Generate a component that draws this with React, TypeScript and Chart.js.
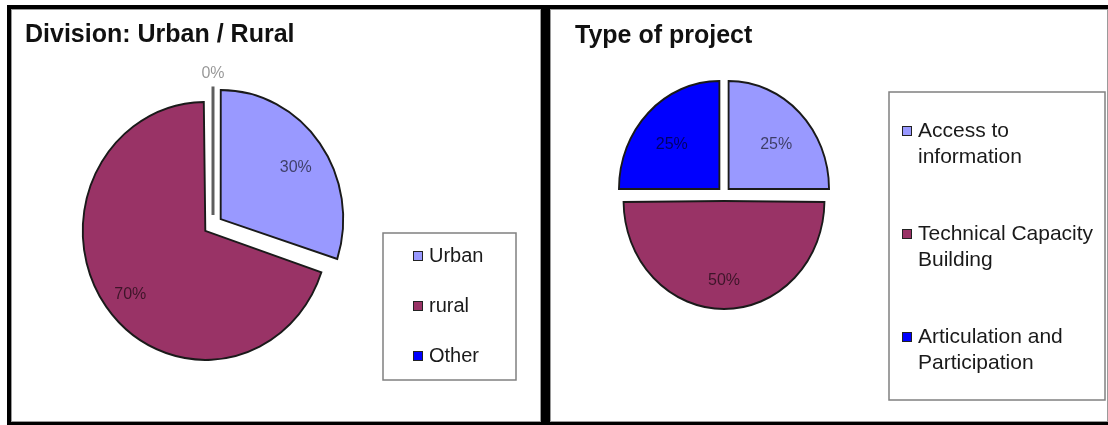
import React, { useEffect, useRef } from 'react';
import { Chart, registerables } from 'chart.js';

Chart.register(...registerables);

const FONT = '"Liberation Sans", Arial, Helvetica, sans-serif';

// ---- data ----
const divisionTitle = 'Division: Urban / Rural';
const divisionLabels = ['Urban', 'rural', 'Other'];
const divisionValues = [30, 70, 0];

const projectTitle = 'Type of project';
const projectLabels = ['Access to information', 'Technical Capacity Building', 'Articulation and Participation'];
const projectValues = [25, 50, 25];

const sliceColors = ['#9999FF', '#993366', '#0000FF'];

function wrapText(ctx: CanvasRenderingContext2D, text: string, maxWidth: number): string[] {
  const words = text.split(' ');
  const lines: string[] = [];
  let cur = '';
  for (const w of words) {
    const test = cur ? cur + ' ' + w : w;
    if (cur && ctx.measureText(test).width > maxWidth) {
      lines.push(cur);
      cur = w;
    } else {
      cur = test;
    }
  }
  if (cur) lines.push(cur);
  return lines;
}

const excelPiePlugin: any = {
  id: 'excelPie',
  afterDatasetUpdate(chart: any, args: any) {
    // keep exploded slices the same radius as the others
    args.meta.data.forEach((arc: any) => {
      const circ = arc.circumference;
      if (!circ || circ <= 0) return;
      const d = ((arc.options && arc.options.offset) || 0) / 4;
      const fix = 1 - Math.sin(Math.min(Math.PI, circ));
      arc.outerRadius = arc.outerRadius - d * fix;
    });
  },
  beforeDatasetsDraw(chart: any, _args: any, opts: any) {
    const arc = chart.getDatasetMeta(0).data[0];
    const ctx = chart.ctx;
    ctx.save();
    ctx.translate(arc.x, 0);
    ctx.scale(opts.scaleX, 1);
    ctx.translate(-arc.x, 0);
  },
  afterDatasetsDraw(chart: any, _args: any, opts: any) {
    const ctx: CanvasRenderingContext2D = chart.ctx;
    ctx.restore();
    const sx = opts.scaleX;
    const meta = chart.getDatasetMeta(0);
    const ds = chart.data.datasets[0];
    const values: number[] = ds.data;
    const total = values.reduce((a, b) => a + b, 0);
    const R = meta.data[0].outerRadius;

    // zero slices and percentage labels
    meta.data.forEach((arc: any, i: number) => {
      const mid = (arc.startAngle + arc.endAngle) / 2;
      const d = ((arc.options && arc.options.offset) || 0) / 4;
      const cx = arc.x + Math.cos(mid) * d * sx;
      const cy = arc.y + Math.sin(mid) * d;
      const txt = Math.round((values[i] / total) * 100) + '%';
      ctx.save();
      ctx.font = `${opts.labelSize}px ${FONT}`;
      ctx.textAlign = 'center';
      ctx.textBaseline = 'middle';
      if (!arc.circumference) {
        ctx.strokeStyle = '#5e5e5e';
        ctx.lineWidth = 3;
        ctx.beginPath();
        ctx.moveTo(cx, cy);
        ctx.lineTo(cx + Math.cos(mid) * R * sx, cy + Math.sin(mid) * R);
        ctx.stroke();
        const rr = R + opts.zeroLabelGap;
        ctx.fillStyle = 'rgba(0,0,0,0.42)';
        ctx.fillText(txt, cx + Math.cos(mid) * rr * sx, cy + Math.sin(mid) * rr);
      } else {
        const rr = R * opts.labelRatio;
        ctx.fillStyle = 'rgba(0,0,0,0.6)';
        ctx.fillText(txt, cx + Math.cos(mid) * rr * sx, cy + Math.sin(mid) * rr + opts.labelDy);
      }
      ctx.restore();
    });

    // title
    ctx.save();
    ctx.font = `bold ${opts.titleSize}px ${FONT}`;
    ctx.fillStyle = '#111';
    ctx.textAlign = 'left';
    ctx.textBaseline = 'alphabetic';
    ctx.fillText(opts.title, opts.titleX, opts.titleY);
    ctx.restore();

    // legend box
    const lg = opts.legend;
    ctx.save();
    ctx.strokeStyle = '#808080';
    ctx.lineWidth = 1.5;
    ctx.strokeRect(lg.left, lg.top, lg.right - lg.left, lg.bottom - lg.top);
    ctx.font = `${lg.fontSize}px ${FONT}`;
    ctx.textAlign = 'left';
    ctx.textBaseline = 'middle';
    const labels: string[] = chart.data.labels;
    labels.forEach((lab, i) => {
      const yc = lg.firstY + i * lg.gap;
      const ms = lg.markerSize;
      ctx.fillStyle = ds.backgroundColor[i];
      ctx.fillRect(lg.markerX, yc - ms / 2, ms, ms);
      ctx.strokeStyle = '#222';
      ctx.lineWidth = 1;
      ctx.strokeRect(lg.markerX + 0.5, yc - ms / 2 + 0.5, ms - 1, ms - 1);
      ctx.fillStyle = '#1a1a1a';
      const lines = wrapText(ctx, lab, lg.maxWidth);
      lines.forEach((ln, j) => ctx.fillText(ln, lg.textX, yc + j * lg.lineHeight));
    });
    ctx.restore();
  },
};

function makeConfig(labels: string[], values: number[], o: any): any {
  return {
    type: 'pie',
    data: {
      labels,
      datasets: [
        {
          data: values,
          backgroundColor: sliceColors,
          borderColor: '#1a1a1a',
          borderWidth: 2,
          borderJoinStyle: 'miter',
          offset: values.map(() => o.offset),
          clip: false,
        },
      ],
    },
    options: {
      animation: false,
      responsive: true,
      maintainAspectRatio: false,
      events: [],
      radius: o.radius,
      layout: { padding: o.padding },
      plugins: {
        legend: { display: false },
        tooltip: { enabled: false },
        title: { display: false },
        excelPie: o.plugin,
      },
    },
    plugins: [excelPiePlugin],
  };
}

function PieCanvas({ config, width, height }: { config: any; width: number; height: number }) {
  const ref = useRef<HTMLCanvasElement>(null);
  useEffect(() => {
    const chart = new Chart(ref.current as HTMLCanvasElement, config);
    return () => chart.destroy();
  }, []);
  return (
    <div style={{ position: 'relative', width, height }}>
      <canvas ref={ref} />
    </div>
  );
}

export default function App() {
  const leftConfig = makeConfig(divisionLabels, divisionValues, {
    radius: 129,
    offset: 40,
    padding: { left: 0, right: 126, top: 19, bottom: 0 },
    plugin: {
      scaleX: 0.95,
      labelRatio: 0.76,
      labelDy: 6,
      labelSize: 16,
      zeroLabelGap: 13,
      title: divisionTitle,
      titleSize: 25,
      titleX: 13,
      titleY: 32,
      legend: {
        left: 371, top: 223, right: 504, bottom: 370,
        markerX: 401, markerSize: 10, textX: 417,
        firstY: 246, gap: 50, fontSize: 20, lineHeight: 24, maxWidth: 200,
      },
    },
  });
  const rightConfig = makeConfig(projectLabels, projectValues, {
    radius: 108,
    offset: 28,
    padding: { left: 0, right: 210, top: 0, bottom: 43 },
    plugin: {
      scaleX: 0.93,
      labelRatio: 0.67,
      labelDy: 7,
      labelSize: 16,
      zeroLabelGap: 13,
      title: projectTitle,
      titleSize: 25,
      titleX: 24,
      titleY: 33,
      legend: {
        left: 338, top: 82, right: 554, bottom: 390,
        markerX: 351, markerSize: 10, textX: 367,
        firstY: 121, gap: 103, fontSize: 21, lineHeight: 26, maxWidth: 186,
      },
    },
  });

  return (
    <div style={{ position: 'fixed', left: 0, top: 0, width: 1108, height: 425, background: '#fff', overflow: 'hidden' }}>
      <div style={{ position: 'absolute', left: 7, top: 5, width: 1101, height: 420, background: '#000' }} />
      <div
        style={{
          position: 'absolute', left: 11, top: 9, width: 530, height: 413,
          background: '#fff', boxSizing: 'border-box', border: '1px solid #9a9a9a',
        }}
      >
        <PieCanvas config={leftConfig} width={528} height={411} />
      </div>
      <div
        style={{
          position: 'absolute', left: 550, top: 9, width: 558, height: 413,
          background: '#fff', boxSizing: 'border-box', border: '1px solid #9a9a9a',
        }}
      >
        <PieCanvas config={rightConfig} width={556} height={411} />
      </div>
    </div>
  );
}
